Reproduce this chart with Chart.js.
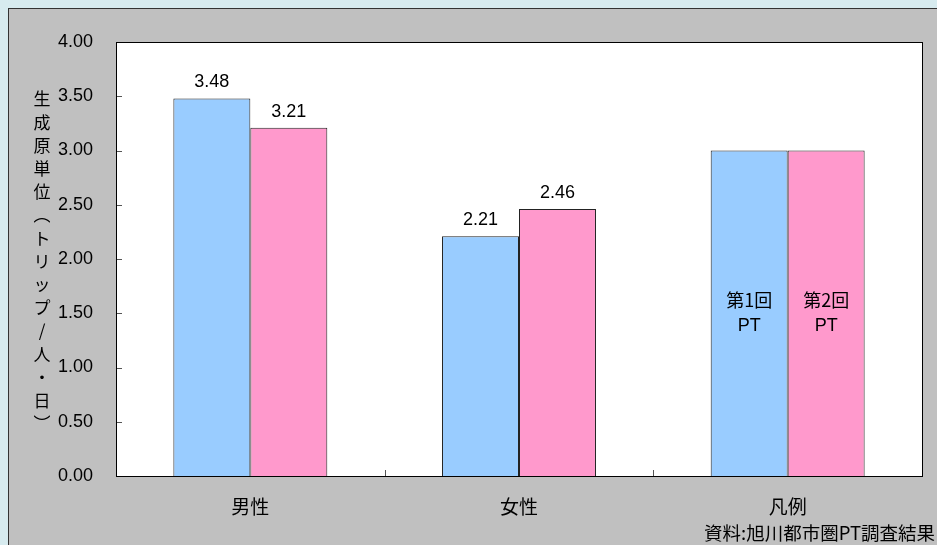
<!DOCTYPE html>
<html lang="ja">
<head>
<meta charset="utf-8">
<title>生成原単位</title>
<script src="https://cdn.jsdelivr.net/npm/chart.js@4/dist/chart.umd.min.js"></script>
<style>
  html, body {
    margin: 0;
    padding: 0;
    background: #d7ebef;
    overflow: hidden;
  }
  #frame {
    position: absolute;
    left: 8px;
    top: 8px;
    width: 960px;
    height: 560px;
    background: #c0c0c0;
    border: 1px solid #333333;
  }
  #chart-box {
    position: absolute;
    left: 0;
    top: 0;
    width: 937px;
    height: 545px;
  }
</style>
</head>
<body>
<div id="frame"></div>
<div id="chart-box"><canvas id="trip-rate-chart"></canvas></div>
<script>
const categories = ["男性", "女性", "凡例"];
const firstSurvey = [3.48, 2.21, 3.00];
const secondSurvey = [3.21, 2.46, 3.00];
const seriesNames = ["第1回 PT", "第2回 PT"];
const legendText = [["第1回", "PT"], ["第2回", "PT"]];
const yTitleChars = ["生", "成", "原", "単", "位", "︵", "ト", "リ", "ッ", "プ", "/", "人", "・", "日", "︶"];
const sourceNote = "資料:旭川都市圏PT調査結果";

const NUM_FONT = "'Liberation Sans', Arial, sans-serif";
const JP_FONT = "'Noto Sans CJK JP', 'Noto Sans', sans-serif";
const LEGEND_INDEX = 2;

// white plot area, frame, small inside ticks and all the loose text
const decorations = {
  id: "decorations",
  beforeDatasetsDraw(chart) {
    const { ctx, chartArea: a } = chart;
    ctx.save();
    ctx.fillStyle = "#ffffff";
    ctx.fillRect(a.left, a.top, a.right - a.left, a.bottom - a.top);
    ctx.restore();
  },
  afterDatasetsDraw(chart) {
    const { ctx, chartArea: a, scales } = chart;
    ctx.save();

    // tick marks pointing into the plot
    ctx.strokeStyle = "#555555";
    ctx.lineWidth = 1;
    scales.y.ticks.forEach((t) => {
      const y = Math.round(scales.y.getPixelForValue(t.value)) + 0.5;
      ctx.beginPath();
      ctx.moveTo(a.left, y);
      ctx.lineTo(a.left + 6, y);
      ctx.stroke();
    });
    const band = (a.right - a.left) / categories.length;
    for (let i = 1; i < categories.length; i++) {
      const x = Math.round(a.left + band * i) + 0.5;
      ctx.beginPath();
      ctx.moveTo(x, a.bottom);
      ctx.lineTo(x, a.bottom - 6);
      ctx.stroke();
    }

    ctx.strokeStyle = "#000000";
    ctx.strokeRect(Math.round(a.left) + 0.5, Math.round(a.top) + 0.5,
      Math.round(a.right - a.left), Math.round(a.bottom - a.top));

    // values above the bars, names inside the legend bars
    ctx.fillStyle = "#000000";
    ctx.textAlign = "center";
    chart.data.datasets.forEach((ds, di) => {
      const meta = chart.getDatasetMeta(di);
      meta.data.forEach((bar, i) => {
        if (i === LEGEND_INDEX) {
          ctx.font = `18px ${JP_FONT}`;
          ctx.textBaseline = "middle";
          ctx.fillText(legendText[di][0], bar.x, 300);
          ctx.font = `18px ${NUM_FONT}`;
          ctx.fillText(legendText[di][1], bar.x, 326);
        } else {
          ctx.font = `18px ${NUM_FONT}`;
          ctx.textBaseline = "bottom";
          ctx.fillText(ds.data[i].toFixed(2), bar.x, bar.y - 7);
        }
      });
    });

    // vertical axis title
    ctx.font = `17px ${JP_FONT}`;
    ctx.textBaseline = "middle";
    yTitleChars.forEach((ch, i) => {
      ctx.fillText(ch, 42, 99 + i * 23.2);
    });

    ctx.font = `18.5px ${JP_FONT}`;
    ctx.textAlign = "right";
    ctx.textBaseline = "middle";
    ctx.fillText(sourceNote, 935, 533);
    ctx.restore();
  }
};

new Chart(document.getElementById("trip-rate-chart"), {
  type: "bar",
  data: {
    labels: categories,
    datasets: [
      {
        label: seriesNames[0],
        data: firstSurvey,
        backgroundColor: "#99ccff",
        borderColor: "#222222",
        borderWidth: 1
      },
      {
        label: seriesNames[1],
        data: secondSurvey,
        backgroundColor: "#ff99cc",
        borderColor: "#222222",
        borderWidth: 1
      }
    ]
  },
  options: {
    responsive: true,
    maintainAspectRatio: false,
    animation: false,
    events: [],
    layout: {
      padding: { left: 0, right: 15, top: 42, bottom: 0 }
    },
    datasets: {
      bar: {
        categoryPercentage: 0.573,
        barPercentage: 1
      }
    },
    plugins: {
      legend: { display: false },
      tooltip: { enabled: false }
    },
    scales: {
      x: {
        grid: { display: false, drawTicks: false },
        border: { display: false },
        ticks: {
          color: "#000000",
          padding: 19,
          font: { family: JP_FONT, size: 19 }
        },
        afterFit(scale) {
          scale.height = 69;
        }
      },
      y: {
        min: 0,
        max: 4,
        grid: { display: false, drawTicks: false },
        border: { display: false },
        ticks: {
          stepSize: 0.5,
          color: "#000000",
          padding: 23,
          font: { family: NUM_FONT, size: 18 },
          callback(value) {
            return Number(value).toFixed(2);
          }
        },
        afterFit(scale) {
          scale.width = 116;
        }
      }
    }
  },
  plugins: [decorations]
});
</script>
</body>
</html>
